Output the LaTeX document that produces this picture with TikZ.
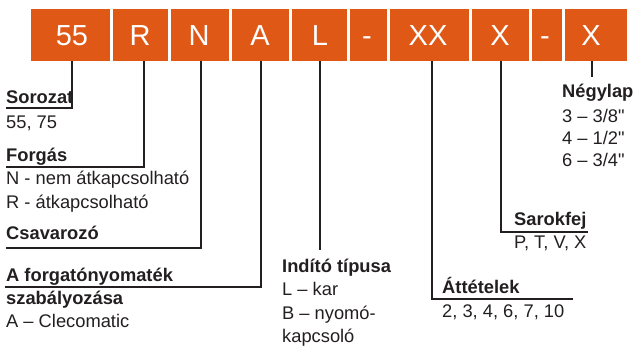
\documentclass[tikz,border=0pt]{standalone}
\usepackage{fontspec}
\setmainfont{Liberation Sans}
\newfontfamily\plainq{Liberation Sans}
\definecolor{cleco}{RGB}{224,88,22}
\definecolor{ink}{RGB}{35,31,32}
\newcommand{\qd}{{\plainq"}}
\begin{document}
\begin{tikzpicture}[x=1pt,y=-1pt,
  codebox/.style={fill=cleco,draw=none},
  code/.style={text=white,font=\fontsize{29}{29}\selectfont,anchor=base,inner sep=0pt},
  lab/.style={text=ink,font=\fontsize{18.3}{18.3}\selectfont,anchor=base west,inner sep=0pt},
  hd/.style={lab,font=\fontsize{18.3}{18.3}\selectfont\bfseries},
  conn/.style={draw=ink,line width=2pt}]
\useasboundingbox (0,0) rectangle (635,347);
% code boxes
\path[codebox] (31,9) rectangle (110,61);
\path[codebox] (112.5,9) rectangle (168,61);
\path[codebox] (170.5,9) rectangle (229,61);
\path[codebox] (231.5,9) rectangle (289,61);
\path[codebox] (291.5,9) rectangle (347,61);
\path[codebox] (349.5,9) rectangle (387,61);
\path[codebox] (389.5,9) rectangle (469,61);
\path[codebox] (471.5,9) rectangle (529,61);
\path[codebox] (531.5,9) rectangle (562,61);
\path[codebox] (564.5,9) rectangle (627,61);
\node[code] (c1) at (72,46) {55};
\node[code] (c2) at (140,46) {R};
\node[code] (c3) at (199,46) {N};
\node[code] (c4) at (260,46) {A};
\node[code] (c5) at (320,46) {L};
\node[code] (c6) at (367,46) {-};
\node[code] (c7) at (428,46) {XX};
\node[code] (c8) at (500,46) {X};
\node[code] (c9) at (545,46) {-};
\node[code] (c10) at (591,46) {X};
% connector tops
\coordinate (t1) at (72,61);
\coordinate (t2) at (144,61);
\coordinate (t3) at (201,61);
\coordinate (t4) at (261,61);
\coordinate (t5) at (320,61);
\coordinate (t7) at (432,61);
\coordinate (t8) at (501,61);
\coordinate (t10) at (592,61);
% labels
\node[hd] (sorozat) at (6,104) {Sorozat};
\node[lab] (v1) at (6,129) {55, 75};
\node[hd] (forgas) at (6,162) {Forgás};
\node[lab] (v2a) at (6,185) {N - nem átkapcsolható};
\node[lab] (v2b) at (6,209) {R - átkapcsolható};
\node[hd] (csav) at (6,240) {Csavarozó};
\node[hd] (forg1) at (6,282) {A forgatónyomaték};
\node[hd] (forg2) at (6,305) {szabályozása};
\node[lab] (v4) at (6,328) {A – Clecomatic};
\node[hd] (indito) at (282,273) {Indító típusa};
\node[lab] (v5a) at (282,296) {L – kar};
\node[lab] (v5b) at (282,320) {B – nyomó-};
\node[lab] (v5c) at (282,343) {kapcsoló};
\node[hd] (att) at (442,294) {Áttételek};
\node[lab] (v7) at (442,318) {2, 3, 4, 6, 7, 10};
\node[hd] (sarok) at (514,226) {Sarokfej};
\node[lab] (v8) at (514,249) {P, T, V, X};
\node[hd] (negy) at (562,98) {Négylap};
\node[lab] (v10a) at (562,123) {3 – 3/8\qd};
\node[lab] (v10b) at (562,145) {4 – 1/2\qd};
\node[lab] (v10c) at (562,167) {6 – 3/4\qd};
% underline ends
\coordinate (u1) at (6,108);
\coordinate (u2) at (6,167);
\coordinate (u3) at (6,248);
\coordinate (u4) at (5,287);
\coordinate (u5) at (320,250);
\coordinate (u7) at (573,299);
\coordinate (u8) at (588,232);
\coordinate (u10) at (592,77);
% connectors
\draw[conn] (t1) |- (u1);
\draw[conn] (t2) |- (u2);
\draw[conn] (t3) |- (u3);
\draw[conn] (t4) |- (u4);
\draw[conn] (t5) -- (u5);
\draw[conn] (t7) |- (u7);
\draw[conn] (t8) |- (u8);
\draw[conn] (t10) -- (u10);
\end{tikzpicture}
\end{document}
